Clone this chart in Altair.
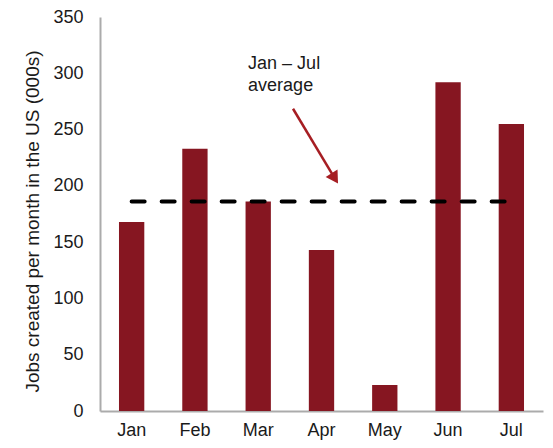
import altair as alt
import pandas as pd

months = ["Jan", "Feb", "Mar", "Apr", "May", "Jun", "Jul"]
jobs = [168, 233, 186, 143, 23, 292, 255]
avg_value = 186
y_ticks = [0, 50, 100, 150, 200, 250, 300, 350]

annot_lines = ["Jan \u2013 Jul", "average"]
annot_x = [2.34, 2.34]
annot_y = [304, 284.5]

arrow_x = [3.05, 3.71]
arrow_y = [268.5, 206.6]

FONT = "Liberation Sans"
BAR = "#861621"
ARROW = "#A61E23"

bars_df = pd.DataFrame({"month": months, "jobs": jobs})
avg_df = pd.DataFrame({"month": [months[0]], "end": [months[-1]], "jobs": [avg_value]})
text_df = pd.DataFrame({"label": annot_lines, "x": annot_x, "y": annot_y})
arrow_df = pd.DataFrame({"x": arrow_x, "y": arrow_y, "order": [0, 1]})
head_df = arrow_df.iloc[[1]]

y_scale = alt.Scale(domain=[0, 350], nice=False)
x_band = alt.Scale(domain=months, paddingInner=0.6, paddingOuter=0.3)
x_lin = alt.Scale(domain=[0, 7], nice=False, zero=False)

x_axis = alt.Axis(title=None, labelAngle=0, ticks=False, labelPadding=10,
                  labelFontSize=18, labelFont=FONT, labelColor="#1a1a1a",
                  domainColor="#ABABAB", domainWidth=2)
y_axis = alt.Axis(values=y_ticks, title="Jobs created per month in the US (000s)",
                  ticks=False, grid=False, labelPadding=17, labelFontSize=18,
                  labelFont=FONT, labelColor="#1a1a1a", domainColor="#ABABAB",
                  domainWidth=2, titleFont=FONT, titleFontSize=19,
                  titleFontWeight="normal", titleColor="#1a1a1a",
                  titleAngle=-90, titleX=-62, titleY=204,
                  titleBaseline="alphabetic", titleAlign="center")

bars = alt.Chart(bars_df).mark_bar(color=BAR).encode(
    x=alt.X("month:N", scale=x_band, sort=months, axis=x_axis),
    y=alt.Y("jobs:Q", scale=y_scale, axis=y_axis),
)

rule = alt.Chart(avg_df).mark_rule(
    color="black", strokeWidth=4, strokeDash=[13, 17], strokeCap="round"
).encode(
    x=alt.X("month:N", scale=x_band, sort=months, axis=x_axis),
    x2="end:N",
    y=alt.Y("jobs:Q", scale=y_scale, axis=y_axis),
)

base_band = alt.layer(bars, rule)

arrow_line = alt.Chart(arrow_df).mark_line(color=ARROW, strokeWidth=2.5).encode(
    x=alt.X("x:Q", scale=x_lin, axis=None),
    y=alt.Y("y:Q", scale=y_scale),
    order="order:Q",
)

arrow_head = alt.Chart(head_df).mark_point(
    shape="triangle-up", filled=True, color=ARROW, size=196, angle=148, opacity=1
).encode(
    x=alt.X("x:Q", scale=x_lin, axis=None),
    y=alt.Y("y:Q", scale=y_scale),
)

text = alt.Chart(text_df).mark_text(
    align="left", baseline="alphabetic", font=FONT, fontSize=18, color="#1a1a1a"
).encode(
    x=alt.X("x:Q", scale=x_lin, axis=None),
    y=alt.Y("y:Q", scale=y_scale),
    text="label:N",
)

chart = alt.layer(base_band, arrow_line, arrow_head, text).resolve_scale(
    x="independent"
).properties(
    width=443,
    height=394,
    autosize=alt.AutoSizeParams(type="none"),
    padding={"left": 92, "top": 9, "right": 2, "bottom": 29},
).configure_view(stroke=None)

chart.save("out.html", embed_options={"renderer": "svg", "actions": False})
